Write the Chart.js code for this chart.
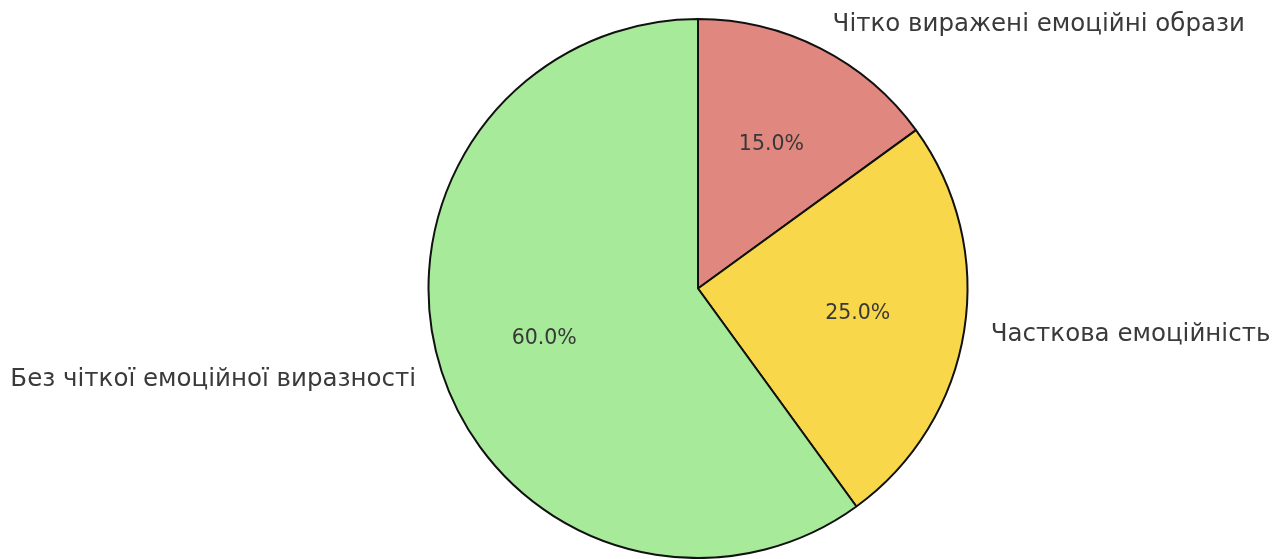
<!DOCTYPE html>
<html>
<head>
<meta charset="utf-8">
<script src="https://cdn.jsdelivr.net/npm/chart.js@4"></script>
<style>
  html, body { margin: 0; padding: 0; background: #fff; }
  #wrap { width: 1288px; height: 559px; }
</style>
</head>
<body>
<div id="wrap"><canvas id="pieChart"></canvas></div>
<script>
// Категорії та частки
const categories = ['Чітко виражені емоційні образи', 'Часткова емоційність', 'Без чіткої емоційної виразності'];
const values = [15, 25, 60];
const colors = ['#e0877f', '#f8d84a', '#a6ea9a'];

// Підписи категорій зовні та відсотки всередині (як у matplotlib)
const pieLabels = {
    id: 'pieLabels',
    afterDatasetsDraw(chart) {
        const ctx = chart.ctx;
        const arcs = chart.getDatasetMeta(0).data;
        const total = values.reduce((a, b) => a + b, 0);
        ctx.save();
        arcs.forEach((arc, i) => {
            const mid = (arc.startAngle + arc.endAngle) / 2;
            const r = arc.outerRadius;
            const cx = Math.cos(mid), cy = Math.sin(mid);

            // відсоток на 0.6 радіуса
            ctx.font = '20.5px "DejaVu Sans"';
            ctx.fillStyle = '#383838';
            ctx.textAlign = 'center';
            ctx.textBaseline = 'middle';
            ctx.fillText((values[i] / total * 100).toFixed(1) + '%', arc.x + cx * r * 0.6, arc.y + cy * r * 0.6);

            // назва на 1.1 радіуса
            ctx.font = '24.5px "DejaVu Sans"';
            ctx.fillStyle = '#3a3a3a';
            ctx.textAlign = cx >= 0 ? 'left' : 'right';
            ctx.fillText(categories[i], arc.x + cx * r * 1.1, arc.y + cy * r * 1.1);
        });
        ctx.restore();
    }
};

new Chart(document.getElementById('pieChart').getContext('2d'), {
    type: 'pie',
    data: {
        labels: categories,
        datasets: [{
            data: values,
            backgroundColor: colors,
            borderColor: '#111111',
            borderWidth: 2
        }]
    },
    options: {
        responsive: true,
        maintainAspectRatio: false,
        animation: false,
        layout: { padding: { top: 18, bottom: 0, left: 108, right: 0 } },
        plugins: {
            legend: { display: false },
            tooltip: { enabled: false }
        }
    },
    plugins: [pieLabels]
});
</script>
</body>
</html>
